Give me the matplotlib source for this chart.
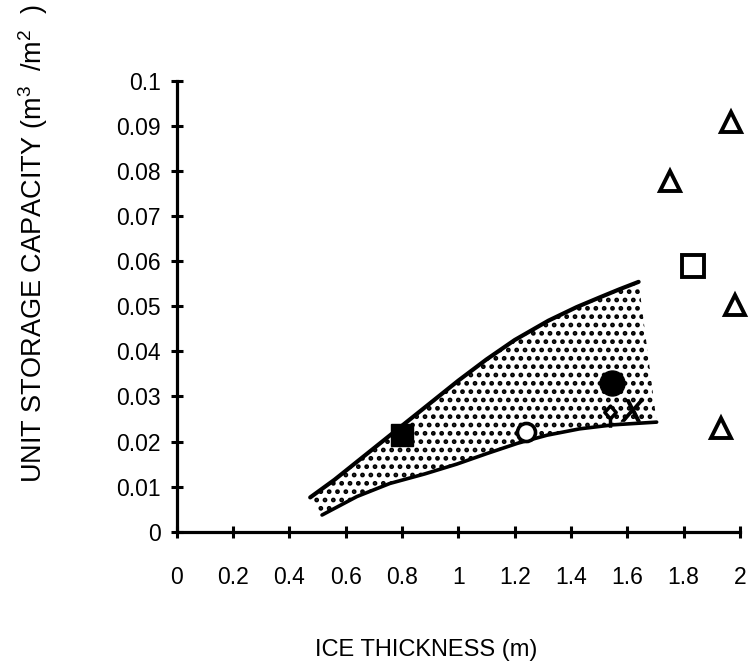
import matplotlib
matplotlib.use("Agg")
import matplotlib.pyplot as plt
from matplotlib.path import Path

plt.rcParams['font.family'] = ['Liberation Sans', 'DejaVu Sans']
plt.rcParams['mathtext.fontset'] = 'custom'
plt.rcParams['mathtext.rm'] = 'Liberation Sans'
plt.rcParams['mathtext.it'] = 'Liberation Sans:italic'
plt.rcParams['hatch.linewidth'] = 2.2

# ---- data ----
x_ticks = [0, 0.2, 0.4, 0.6, 0.8, 1.0, 1.2, 1.4, 1.6, 1.8, 2.0]
x_tick_labels = ['0', '0.2', '0.4', '0.6', '0.8', '1', '1.2', '1.4', '1.6', '1.8', '2']
y_ticks = [0, 0.01, 0.02, 0.03, 0.04, 0.05, 0.06, 0.07, 0.08, 0.09, 0.1]
y_tick_labels = ['0', '0.01', '0.02', '0.03', '0.04', '0.05', '0.06', '0.07', '0.08', '0.09', '0.1']

upper_x = [0.474, 0.56, 0.64, 0.76, 0.88, 1.0, 1.1, 1.2, 1.32, 1.42, 1.5, 1.57, 1.64]
upper_y = [0.0076, 0.0115, 0.0155, 0.0215, 0.0275, 0.0335, 0.0382, 0.0425, 0.0468, 0.0498, 0.0519, 0.0537, 0.0554]
lower_x = [0.516, 0.64, 0.757, 0.88, 0.995, 1.1, 1.21, 1.315, 1.43, 1.55, 1.704]
lower_y = [0.0037, 0.0078, 0.0107, 0.0128, 0.0150, 0.0173, 0.0196, 0.0214, 0.0228, 0.0237, 0.0243]

filled_square = ([0.80], [0.0214])
open_circle = ([1.24], [0.0221])
filled_circle = ([1.545], [0.0330])
stem_diamond = ([1.538], [0.0265])
cross_x = ([1.617], [0.0270])
triangles_x = [1.967, 1.751, 1.982, 1.932]
triangles_y = [0.0909, 0.0778, 0.0503, 0.0229]
open_square = ([1.834], [0.0589])

# ---- figure ----
fig = plt.figure(figsize=(7.5, 6.71), dpi=100)
ax = fig.add_axes([176.7 / 750, (671 - 531.7) / 671, (740 - 176.7) / 750, (531.7 - 80.7) / 671])
ax.set_xlim(0, 2)
ax.set_ylim(0, 0.1)

# shaded band
poly_x = upper_x + lower_x[::-1]
poly_y = upper_y + lower_y[::-1]
ax.fill(poly_x, poly_y, facecolor='none', edgecolor='black', linewidth=0, hatch='..', zorder=1)
ax.plot(upper_x, upper_y, color='black', lw=3.0, solid_capstyle='round', solid_joinstyle='round', zorder=2)
ax.plot(lower_x, lower_y, color='black', lw=2.6, solid_capstyle='round', solid_joinstyle='round', zorder=2)

# markers
ax.plot(*filled_square, marker='s', ms=16.5, color='black', ls='none', zorder=3, clip_on=False)
ax.plot(*open_circle, marker='o', ms=13, mfc='white', mec='black', mew=2.6, ls='none', zorder=3)
ax.plot(*filled_circle, marker='o', ms=18, color='black', ls='none', zorder=3)
stem_path = Path(
    [(0, 0.5), (0.45, 0), (0, -0.5), (-0.45, 0), (0, 0.5), (0, -0.5), (0, -1.2)],
    [Path.MOVETO, Path.LINETO, Path.LINETO, Path.LINETO, Path.CLOSEPOLY, Path.MOVETO, Path.LINETO])
ax.plot(*stem_diamond, marker=stem_path, ms=22, mfc='white', mec='black', mew=2.5, ls='none', zorder=3)
ax.plot(*cross_x, marker=r'$\mathit{X}$', ms=16, color='black', ls='none', zorder=3)
ax.plot(triangles_x, triangles_y, marker='^', ms=14, mfc='white', mec='black', mew=2.8,
        ls='none', zorder=3, clip_on=False)
ax.plot(*open_square, marker='s', ms=16.5, mfc='white', mec='black', mew=2.8, ls='none', zorder=3,
        clip_on=False)

# axes styling
for s in ['top', 'right']:
    ax.spines[s].set_visible(False)
for s in ['left', 'bottom']:
    ax.spines[s].set_linewidth(2.3)
ax.set_xticks(x_ticks)
ax.set_xticklabels(x_tick_labels)
ax.set_yticks(y_ticks)
ax.set_yticklabels(y_tick_labels)
ax.tick_params(axis='both', direction='inout', length=9, width=2.2, labelsize=16.5)
ax.tick_params(axis='x', pad=20)
ax.tick_params(axis='y', pad=7)

fig.text(426 / 750, 1 - 650 / 671, 'ICE THICKNESS (m)', ha='center', va='center', fontsize=17)
fig.text(33 / 750, 1 - 244 / 671, r'UNIT STORAGE CAPACITY (m$^3$  /m$^2$  )', rotation=90,
         ha='center', va='center', fontsize=19.5)

fig.savefig('out.png', dpi=100)
